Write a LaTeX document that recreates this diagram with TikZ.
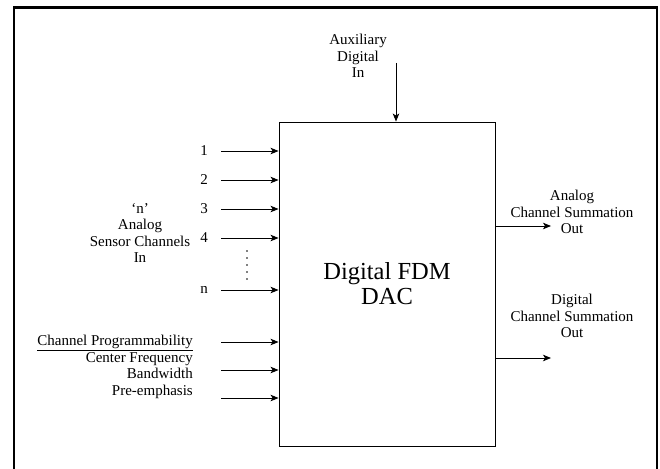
\documentclass[tikz,border=0pt]{standalone}
\usepackage{fontspec}
\setmainfont{Liberation Serif}
\usetikzlibrary{arrows.meta}
\begin{document}
\begin{tikzpicture}[x=1pt,y=-1pt,
  lbl/.style={font=\fontsize{15}{16.5}\selectfont, inner sep=0pt, align=center},
  arr/.style={-{Stealth[length=8pt,width=6.5pt,inset=2pt]}, line width=0.9pt},
  frame/.style={line width=2.2pt},
  mainbox/.style={draw, line width=0.9pt, minimum width=216pt, minimum height=324pt, inner sep=0pt, font=\fontsize{24.5}{25}\selectfont, align=center}
]
\useasboundingbox (0,0) rectangle (660,468);
\draw[frame] (14,472) -- (14,7.5) -- (657,7.5) -- (657,472);
\node[mainbox] (box) at (387,284) {Digital FDM\\DAC};
% auxiliary input
\node[lbl] (aux) at (358,56) {Auxiliary\\Digital\\In};
\coordinate (auxs) at (396,63);
\draw[arr] (auxs) -- (auxs |- box.north);
% sensor channels
\foreach \y/\t [count=\i] in {151/1,180/2,209/3,238/4,290/n} {
  \node[lbl] (num\i) at (204,\y) {\t};
  \coordinate (s\i) at (221,\y);
  \draw[arr] (s\i) -- (s\i -| box.west);
}
\foreach \k in {0,...,4} \fill (247,251+7*\k) circle (0.9pt);
\node[lbl] (sensor) at (140,233) {‘n’\\Analog\\Sensor Channels\\In};
% programmability
\node[lbl, align=right, anchor=north east] (prog) at (193,335) {\underline{Channel Programmability}\\Center Frequency\\Bandwidth\\Pre-emphasis};
\foreach \y [count=\i] in {342,370,398} {
  \coordinate (p\i) at (221,\y);
  \draw[arr] (p\i) -- (p\i -| box.west);
}
% outputs
\node[lbl] (aout) at (572,212) {Analog\\Channel Summation\\Out};
\node[lbl] (dout) at (572,316) {Digital\\Channel Summation\\Out};
\coordinate (ao) at (551,226);
\coordinate (do) at (551,358);
\draw[arr] (ao -| box.east) -- (ao);
\draw[arr] (do -| box.east) -- (do);
\end{tikzpicture}
\end{document}
